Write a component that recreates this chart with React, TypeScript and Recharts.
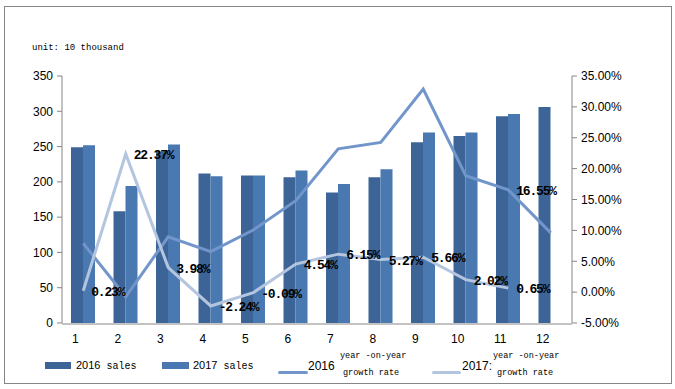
import React from 'react';
import { ComposedChart, Bar, Line, XAxis, YAxis, LabelList, Legend } from 'recharts';

const months = ['1', '2', '3', '4', '5', '6', '7', '8', '9', '10', '11', '12'];
const sales2016 = [249, 158.5, 243, 212, 209, 206.5, 185, 206.5, 256, 265, 293, 306];
const sales2017 = [252, 194, 253, 208, 209, 216, 197, 218, 270, 270, 296, null];
// growth rates in percent
const growth2016 = [7.9, -0.75, 8.96, 6.55, 10.06, 14.8, 23.2, 24.25, 32.9, 18.85, 16.55, 9.6];
const growth2017 = [0.23, 22.37, 3.98, -2.24, -0.09, 4.54, 6.15, 5.27, 5.66, 2.02, 0.65, null];
// only month 11 of the 2016 rate carries a label in the original
const labeledMonths2016 = ['11'];

const salesTicks = [0, 50, 100, 150, 200, 250, 300, 350];
const rateTicks = [-5, 0, 5, 10, 15, 20, 25, 30, 35];
const edgeTicks = [0, 1, 2, 3, 4, 5, 6, 7, 8, 9, 10, 11, 12];

const C_BAR16 = '#3d6496';
const C_BAR17 = '#4a78b1';
const C_LINE16 = '#7296cb';
const C_LINE17 = '#b3c5df';
const AXIS = '#868686';

const data = months.map((m, i) => ({
  month: m,
  s2016: sales2016[i],
  s2017: sales2017[i],
  g2016: growth2016[i],
  g2017: growth2017[i],
  l2016: labeledMonths2016.includes(m) ? growth2016[i] : null,
}));

const fmtPct = (v: number) => `${v.toFixed(2)}%`;

const renderRateLabel = (props: any) => {
  const { x, y, value } = props;
  if (value === null || value === undefined) return null;
  return (
    <text
      x={x + 8}
      y={y + 5}
      fontFamily="Liberation Mono"
      fontWeight="bold"
      fontSize={13}
      letterSpacing={-1.2}
      fill="#000"
      textAnchor="start"
    >
      {fmtPct(value)}
    </text>
  );
};

const mono: React.CSSProperties = { fontFamily: 'Liberation Mono', lineHeight: 1 };
const sans: React.CSSProperties = { fontFamily: 'Liberation Sans', lineHeight: 1 };

const LegendBox = () => (
  <div style={{ position: 'relative', width: 675, height: 49, color: '#000' }}>
    <span style={{ position: 'absolute', left: 45, top: 22, width: 26, height: 7, background: C_BAR16 }} />
    <span style={{ ...sans, position: 'absolute', left: 76, top: 20, fontSize: 11, whiteSpace: 'nowrap' }}>
      2016<span style={{ ...mono, fontSize: 10 }}> sales</span>
    </span>
    <span style={{ position: 'absolute', left: 162, top: 22, width: 27, height: 7, background: C_BAR17 }} />
    <span style={{ ...sans, position: 'absolute', left: 193, top: 20, fontSize: 11, whiteSpace: 'nowrap' }}>
      2017<span style={{ ...mono, fontSize: 10 }}> sales</span>
    </span>

    <span style={{ position: 'absolute', left: 278, top: 31, width: 30, height: 3, background: C_LINE16, borderRadius: 2 }} />
    <span style={{ ...sans, position: 'absolute', left: 308, top: 20, fontSize: 12 }}>2016</span>
    <span style={{ ...mono, position: 'absolute', left: 340, top: 12, fontSize: 8.5, whiteSpace: 'pre' }}>year -on-year</span>
    <span style={{ ...mono, position: 'absolute', left: 343, top: 29, fontSize: 8.5, whiteSpace: 'pre' }}>growth rate</span>

    <span style={{ position: 'absolute', left: 432, top: 31, width: 29, height: 3, background: C_LINE17, borderRadius: 2 }} />
    <span style={{ ...sans, position: 'absolute', left: 462, top: 20, fontSize: 12 }}>2017:</span>
    <span style={{ ...mono, position: 'absolute', left: 493, top: 12, fontSize: 8.5, whiteSpace: 'pre' }}>year -on-year</span>
    <span style={{ ...mono, position: 'absolute', left: 497, top: 29, fontSize: 8.5, whiteSpace: 'pre' }}>growth rate</span>
  </div>
);

const tickStyle = { fill: '#000', fontSize: 12, fontFamily: 'Liberation Sans' };

export default function App() {
  return (
    <div style={{ position: 'absolute', left: 0, top: 0, width: 675, height: 389, background: '#fff' }}>
      <div
        style={{
          position: 'absolute',
          left: 4,
          top: 6,
          width: 668,
          height: 378,
          boxSizing: 'border-box',
          border: `1px solid ${AXIS}`,
        }}
      />
      <div style={{ ...mono, position: 'absolute', left: 32, top: 44, fontSize: 9, color: '#000', whiteSpace: 'pre' }}>
        unit: 10 thousand
      </div>
      <div style={{ position: 'absolute', left: 0, top: 0 }}>
        <ComposedChart
          width={675}
          height={389}
          data={data}
          margin={{ top: 76, right: 0, bottom: 64, left: 0 }}
          barGap={0}
        >
          <XAxis
            xAxisId="edge"
            type="number"
            domain={[0, 12]}
            ticks={edgeTicks}
            allowDataOverflow
            height={1}
            tick={false}
            tickSize={5}
            axisLine={{ stroke: AXIS }}
            tickLine={{ stroke: AXIS }}
          />
          <XAxis
            dataKey="month"
            height={1}
            interval={0}
            axisLine={false}
            tickLine={false}
            tickSize={5}
            tickMargin={6}
            tick={{ ...tickStyle, dx: -8 }}
          />
          <YAxis
            yAxisId="left"
            width={62}
            domain={[0, 350]}
            ticks={salesTicks}
            interval={0}
            tickSize={5}
            tickMargin={4}
            axisLine={{ stroke: AXIS }}
            tickLine={{ stroke: AXIS }}
            tick={tickStyle}
          />
          <YAxis
            yAxisId="right"
            orientation="right"
            width={103}
            domain={[-5, 35]}
            ticks={rateTicks}
            interval={0}
            tickSize={5}
            tickMargin={4}
            tickFormatter={fmtPct}
            axisLine={{ stroke: AXIS }}
            tickLine={{ stroke: AXIS }}
            tick={tickStyle}
          />
          <Bar yAxisId="left" dataKey="s2016" name="2016 sales" fill={C_BAR16} barSize={12} isAnimationActive={false} />
          <Bar yAxisId="left" dataKey="s2017" name="2017 sales" fill={C_BAR17} barSize={12} isAnimationActive={false} />
          <Line
            yAxisId="right"
            type="linear"
            dataKey="g2016"
            name="2016 year -on-year growth rate"
            stroke={C_LINE16}
            strokeWidth={3}
            dot={false}
            isAnimationActive={false}
          >
            <LabelList dataKey="l2016" content={renderRateLabel} />
          </Line>
          <Line
            yAxisId="right"
            type="linear"
            dataKey="g2017"
            name="2017: year -on-year growth rate"
            stroke={C_LINE17}
            strokeWidth={3}
            dot={false}
            isAnimationActive={false}
          >
            <LabelList dataKey="g2017" content={renderRateLabel} />
          </Line>
          <Legend
            verticalAlign="middle"
            align="center"
            layout="horizontal"
            wrapperStyle={{ top: 340, left: 0, width: 675, height: 49 }}
            content={() => <LegendBox />}
          />
        </ComposedChart>
      </div>
    </div>
  );
}
